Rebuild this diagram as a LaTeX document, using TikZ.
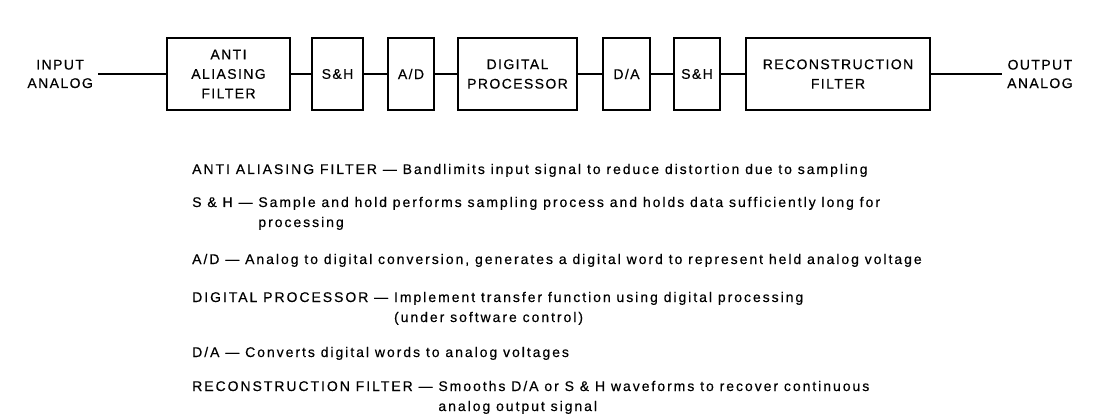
\documentclass[tikz,border=0pt]{standalone}
\usepackage{fontspec}
\setmainfont{Liberation Sans}
\newfontfamily\blockfont{Liberation Sans}[LetterSpace=10,FakeBold=0.4]
\newfontfamily\descfont{Liberation Sans}[LetterSpace=14,FakeBold=0.4]
\begin{document}
\begin{tikzpicture}[x=1pt,y=-1pt,
  blk/.style={draw, line width=1.6pt, inner sep=0pt, minimum height=72pt, align=center,
    font=\blockfont\fontsize{14}{19.5}\selectfont},
  lbl/.style={align=center, inner sep=5pt, font=\blockfont\fontsize{14}{18.5}\selectfont},
  wire/.style={line width=1.1pt},
  desc/.style={anchor=base west, inner sep=0pt, font=\descfont\fontsize{14}{20}\selectfont}]
\useasboundingbox (0,0) rectangle (1094,414);
% blocks
\node[blk, minimum width=123pt] (aa)  at (228.5,74) {ANTI\\ALIASING\\FILTER};
\node[blk, minimum width=51pt]  (sh1) at (337.5,74) {S\&H};
\node[blk, minimum width=46pt]  (ad)  at (411,74)   {A/D};
\node[blk, minimum width=119pt] (dp)  at (517.5,74) {DIGITAL\\PROCESSOR};
\node[blk, minimum width=47pt]  (da)  at (626.5,74) {D/A};
\node[blk, minimum width=46pt]  (sh2) at (697,74)   {S\&H};
\node[blk, minimum width=184pt] (rf)  at (838,74)   {RECONSTRUCTION\\FILTER};
% terminals
\node[lbl, anchor=east] (in)  at (98,74)   {INPUT\\ANALOG};
\node[lbl, anchor=west] (out) at (1002,74) {OUTPUT\\ANALOG};
% wires
\draw[wire] (in.east) -- (aa.west);
\draw[wire] (aa.east) -- (sh1.west);
\draw[wire] (sh1.east) -- (ad.west);
\draw[wire] (ad.east) -- (dp.west);
\draw[wire] (dp.east) -- (da.west);
\draw[wire] (da.east) -- (sh2.west);
\draw[wire] (sh2.east) -- (rf.west);
\draw[wire] (rf.east) -- (out.west);
% descriptions
\node[desc] (d1) at (192,174) {\begin{tabular}[t]{@{}l@{}l@{}}ANTI ALIASING FILTER — \mbox{} & Bandlimits input signal to reduce distortion due to sampling\end{tabular}};
\node[desc] (d2) at (192,207) {\begin{tabular}[t]{@{}l@{}l@{}}S \& H — \mbox{} & Sample and hold performs sampling process and holds data sufficiently long for\\ & processing\end{tabular}};
\node[desc] (d3) at (192,264) {\begin{tabular}[t]{@{}l@{}l@{}}A/D — \mbox{} & Analog to digital conversion, generates a digital word to represent held analog voltage\end{tabular}};
\node[desc] (d4) at (192,302) {\begin{tabular}[t]{@{}l@{}l@{}}DIGITAL PROCESSOR — \mbox{} & Implement transfer function using digital processing\\ & (under software control)\end{tabular}};
\node[desc] (d5) at (192,357) {\begin{tabular}[t]{@{}l@{}l@{}}D/A — \mbox{} & Converts digital words to analog voltages\end{tabular}};
\node[desc] (d6) at (192,391) {\begin{tabular}[t]{@{}l@{}l@{}}RECONSTRUCTION FILTER — \mbox{} & Smooths D/A or S \& H waveforms to recover continuous\\ & analog output signal\end{tabular}};
\end{tikzpicture}
\end{document}
